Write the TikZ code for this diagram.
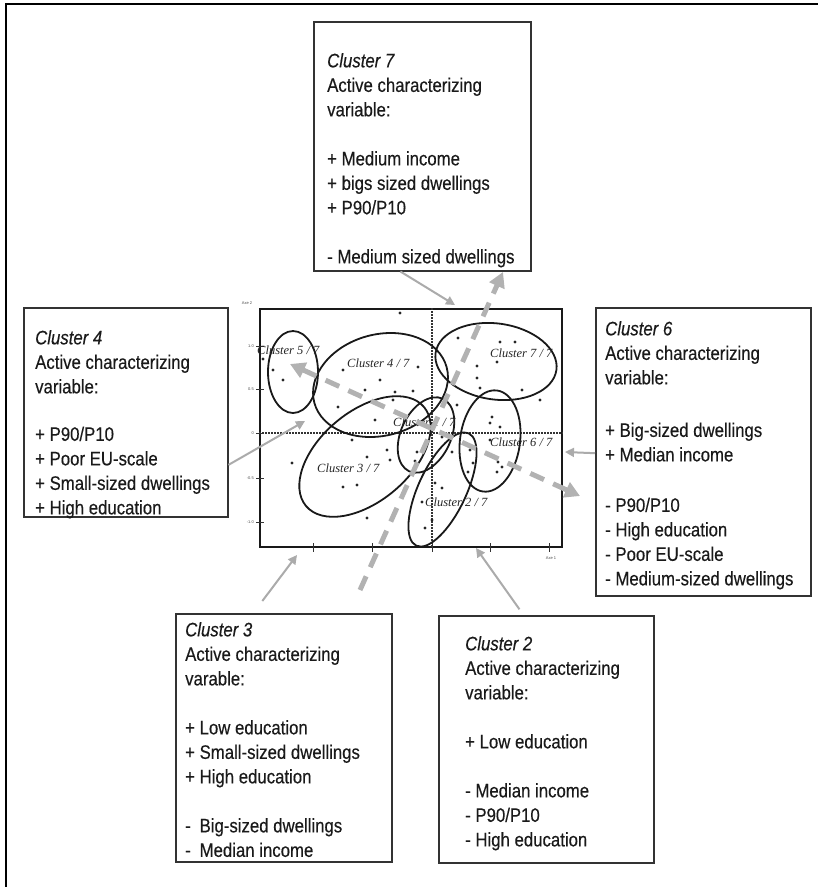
\documentclass[tikz,border=0pt]{standalone}
\usepackage{fontspec}
\setmainfont{Liberation Sans}
\newfontfamily\boxfont[FakeStretch=0.86,FakeBold=0.35]{Liberation Sans}
\newfontfamily\plotfont{Liberation Serif}
\usetikzlibrary{arrows.meta,calc}
\definecolor{txt}{HTML}{1A1A1A}
\definecolor{arrgray}{HTML}{ABABAB}
\definecolor{dashgray}{HTML}{B2B2B2}
\begin{document}
\begin{tikzpicture}[x=1pt,y=-1pt,
 box/.style={draw=black!80, line width=1.5pt, inner sep=0pt, anchor=north west},
 boxtext/.style={anchor=north west, inner sep=0pt, align=left, text=txt, font=\boxfont\fontsize{19.5}{24.5}\selectfont},
 ell/.style={draw=black!90, line width=1.8pt},
 clab/.style={font=\plotfont\itshape\fontsize{12.5}{14}\selectfont, text=black!85, inner sep=0pt, anchor=west},
 conn/.style={draw=arrgray, line width=2pt, -{Triangle[length=9pt,width=9pt]}},
 trend/.style={draw=dashgray, line width=5pt, dash pattern=on 15pt off 10pt},
 ticklab/.style={font=\fontsize{4}{5}\selectfont, text=black!70, inner sep=0pt}
]
\useasboundingbox (0,0) rectangle (818,887);
% outer frame (top and left edges)
\draw[line width=2.5pt] (818,4) -- (6,4) -- (6,887);

% boxes
\node[box, minimum width=217pt, minimum height=249pt] (c7) at (313,21) {};
\node[box, minimum width=204pt, minimum height=209pt] (c4) at (23,307) {};
\node[box, minimum width=215pt, minimum height=288pt] (c6) at (595,307) {};
\node[box, minimum width=216pt, minimum height=248pt] (c3) at (175,613) {};
\node[box, minimum width=215pt, minimum height=247pt] (c2) at (438,615) {};

\node[boxtext] (t7) at (327,53) {\textit{Cluster 7}\\ Active characterizing\\ variable:\\[24.5pt] + Medium income\\ + bigs sized dwellings\\ + P90/P10\\[24.5pt] - Medium sized dwellings};
\node[boxtext] (t4) at (35,330) {\textit{Cluster 4}\\ Active characterizing\\ variable:\\[23pt] + P90/P10\\ + Poor EU-scale\\ + Small-sized dwellings\\ + High education};
\node[boxtext] (t6) at (605,321) {\textit{Cluster 6}\\ Active characterizing\\ variable:\\[28pt] + Big-sized dwellings\\ + Median income\\[26pt] - P90/P10\\ - High education\\ - Poor EU-scale\\ - Medium-sized dwellings};
\node[boxtext] (t3) at (185,622) {\textit{Cluster 3}\\ Active characterizing\\ varable:\\[24.5pt] + Low education\\ + Small-sized dwellings\\ + High education\\[24.5pt] \rlap{-}\phantom{+} Big-sized dwellings\\ \rlap{-}\phantom{+} Median income};
\node[boxtext] (t2) at (465,636) {\textit{Cluster 2}\\ Active characterizing\\ variable:\\[24.5pt] + Low education\\[24.5pt] - Median income\\ - P90/P10\\ - High education};

% plot frame
\node[draw=black!90, line width=1.9pt, minimum width=302pt, minimum height=238pt, inner sep=0pt] (plot) at (411,428) {};
\draw[black!80, line width=1.1pt, dash pattern=on 1.5pt off 1.5pt] (plot.west |- 0,433) -- (plot.east |- 0,433);
\draw[black!80, line width=1.1pt, dash pattern=on 1.5pt off 1.5pt] (432,0 |- plot.north) -- (432,0 |- plot.south);
\foreach \tx in {313,372,432,490,549} \draw[black!80, line width=0.8pt] (\tx,543) -- (\tx,552);
\foreach \ty/\tl in {346/1.0,389/0.5,433/0,478/-0.5,522/-1.0} {
  \draw[black!80, line width=0.8pt] (256,\ty) -- (264,\ty);
  \node[ticklab, anchor=east] (tl\ty) at (254,\ty) {\tl};
}
\node[ticklab] (ax2) at (247,303) {Axe 2};
\node[ticklab] (ax1) at (551,558) {Axe 1};

% cluster ellipses
\draw[ell] (293,372) ellipse [x radius=25pt, y radius=41pt];
\draw[ell, rotate around={15:(380.5,385)}] (380.5,385) ellipse [x radius=68.5pt, y radius=50.6pt];
\draw[ell, rotate around={-8:(496,361.5)}] (496,361.5) ellipse [x radius=61pt, y radius=38pt];
\draw[ell, rotate around={-8:(490,441)}] (490,441) ellipse [x radius=30pt, y radius=51pt];
\draw[ell, rotate around={40:(365,456.5)}] (365,456.5) ellipse [x radius=77pt, y radius=45pt];
\draw[ell, rotate around={65:(426,435)}] (426,435) ellipse [x radius=40pt, y radius=25pt];
\draw[ell, rotate around={65:(442.5,489.5)}] (442.5,489.5) ellipse [x radius=62pt, y radius=24pt];

% points
\foreach \px/\py in {400/313,458/338,500/342,515/342,263/359,273/370,283/380,343/370,418/367,477/366,497/362,477/378,480/388,380/380,365/390,395/392,413/391,338/407,393/400,457/405,375/420,492/417,490/423,500/427,352/440,387/450,367/457,390/460,417/452,415/461,442/437,452/452,292/463,490/440,498/462,502/467,497/472,473/463,468/472,435/483,442/488,422/502,432/520,425/528,343/487,357/485,367/518,470/450,540/400,522/390}
  \fill[black!85] (\px,\py) circle (1.7pt);

% cluster labels
\node[clab] (l5) at (257,350) {Cluster 5 / 7};
\node[clab] (l4) at (347,363) {Cluster 4 / 7};
\node[clab] (l7) at (490,353) {Cluster 7 / 7};
\node[clab] (l1) at (393,422) {Cluster 1 / 7};
\node[clab] (l6) at (490,442) {Cluster 6 / 7};
\node[clab] (l3) at (317,468) {Cluster 3 / 7};
\node[clab] (l2) at (425,502) {Cluster 2 / 7};

% dashed trend arrows
\coordinate (t1a) at (360,590);
\coordinate (t1b) at (503,272);
\coordinate (t2a) at (290,364);
\coordinate (t2b) at (580,496);
\draw[trend, -{Triangle[length=15pt,width=16pt]}] (t1a) -- (t1b);
\draw[trend, {Triangle[length=15pt,width=16pt]}-{Triangle[length=15pt,width=16pt]}] (t2a) -- (t2b);

% connectors from boxes
\coordinate (e7) at (455,305);
\coordinate (e4) at (305,421);
\coordinate (e6) at (565,452);
\coordinate (e3) at (297,555);
\coordinate (e2) at (476,548);
\draw[conn] ($(c7.south west)!0.4!(c7.south east)$) -- (e7);
\draw[conn] ($(c4.north east)!0.75!(c4.south east)$) -- (e4);
\draw[conn] ($(c6.north west)!0.505!(c6.south west)$) -- (e6);
\draw[conn, shorten <=15pt] ($(c3.north west)!0.36!(c3.north east)$) -- (e3);
\draw[conn, shorten <=7pt] ($(c2.north west)!0.395!(c2.north east)$) -- (e2);
\end{tikzpicture}
\end{document}
